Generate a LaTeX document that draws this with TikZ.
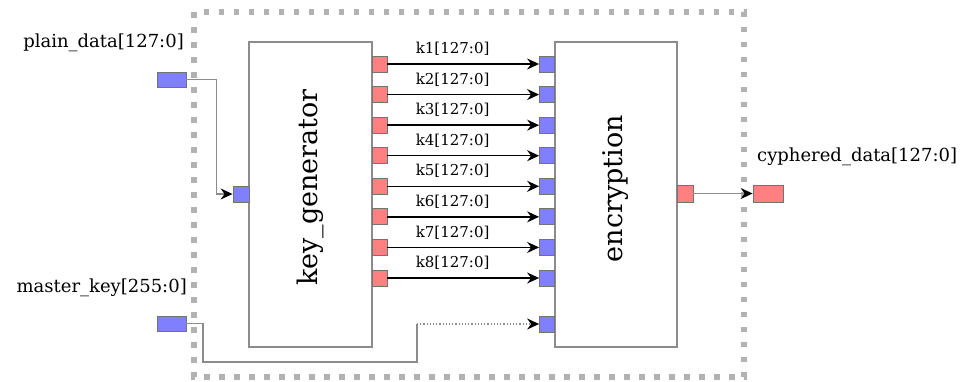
\documentclass[tikz,border=0pt]{standalone}
\usepackage{fontspec}
\setmainfont{DejaVu Serif}
\usetikzlibrary{arrows.meta}
\definecolor{portblue}{RGB}{128,128,255}
\definecolor{portred}{RGB}{255,128,128}
\definecolor{framegray}{RGB}{178,178,178}
\definecolor{wiregray}{RGB}{140,140,140}
\begin{document}
\begin{tikzpicture}[x=1pt,y=-1pt,>={Stealth[length=12pt,width=11pt,inset=4pt,color=black]},
		block/.style={draw=wiregray,line width=1.2pt,fill=white,inner sep=0pt},
		blocklabel/.style={rotate=90,inner sep=0pt,font=\fontsize{27}{30}\selectfont},
		port/.style={draw=black!55,line width=0.8pt,minimum width=15pt,minimum height=16pt,inner sep=0pt},
		inport/.style={port,fill=portblue},
		outport/.style={port,fill=portred},
		wire/.style={draw=wiregray,line width=1.2pt},
		keyline/.style={draw=black,line width=1.4pt,->},
		pinlabel/.style={inner sep=0pt,font=\fontsize{18}{20}\selectfont},
		keylabel/.style={inner sep=0pt,font=\fontsize{15}{17}\selectfont}
	]
		\useasboundingbox (0,0) rectangle (964,381);
		\draw[color=framegray,line width=5.5pt,dash pattern=on 5.5pt off 9.5pt] (194,12) rectangle (744,377);
		% the two blocks
		\node[block,minimum width=123pt,minimum height=305pt] (keygen) at (310.5,194.5) {};
		\node[block,minimum width=122pt,minimum height=305pt] (encrypt) at (616,194.5) {};
		\node[blocklabel] (keygenlabel) at ([yshift=7pt]keygen.center) {key\_generator};
		\node[blocklabel] (encryptlabel) at ([yshift=6pt]encrypt.center) {encryption};
		% top level pins
		\node[inport,minimum width=29pt,minimum height=15pt] (pdata) at (171.5,79.5) {};
		\node[inport,minimum width=29pt,minimum height=15pt] (mkey) at (171.5,323.5) {};
		\node[outport,minimum width=30pt,minimum height=17pt] (cdata) at (768,193.5) {};
		\node[pinlabel,anchor=east] (pdatalabel) at (184,43) {plain\_data[127:0]};
		\node[pinlabel,anchor=east] (mkeylabel) at (187,288) {master\_key[255:0]};
		\node[pinlabel,anchor=west] (cdatalabel) at (757,157) {cyphered\_data[127:0]};
		% block ports
		\node[inport,minimum width=16pt] (kin) at (241,194) {};
		\node[inport] (ein9) at (547,324) {};
		\node[outport,minimum width=16pt,minimum height=17pt] (cout) at (685,193.5) {};
		\foreach \i in {1,...,8} {
			\node[outport] (kout\i) at (379.5,{64+30.57*(\i-1)}) {};
			\node[inport] (ein\i) at (547,{64+30.57*(\i-1)}) {};
			\draw[keyline] (kout\i.east) -- node[keylabel,pos=.43,yshift=15pt] (klabel\i) {k\i[127:0]} (ein\i.west);
		}
		% wires
		\coordinate (mbend) at (417,324);
		\draw[wire,->] (pdata.east) -| ([xshift=-16pt]kin.west) -- (kin.west);
		\draw[wire] (mkey.east) -| (203,362) -| (mbend);
		\draw[wire,dotted,->] (mbend) -- (ein9.west);
		\draw[wire,->] (cout.east) -- (cdata.west);
	\end{tikzpicture}
\end{document}
